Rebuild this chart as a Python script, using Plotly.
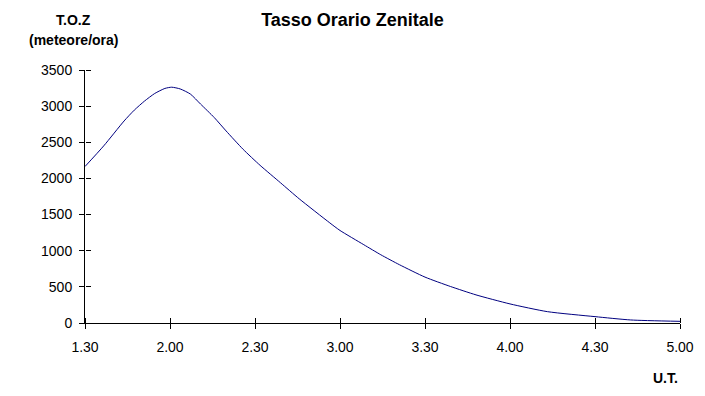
import plotly.graph_objects as go

# Data (U.T. in decimal hours, T.O.Z in meteors/hour)
ut_hours = [1.50, 1.61, 1.73, 1.79, 1.85, 1.91, 1.97, 2.01, 2.06, 2.12, 2.18, 2.26, 2.33,
            2.43, 2.53, 2.65, 2.76, 2.94, 3.00, 3.14, 3.24, 3.35, 3.50, 3.65, 3.80, 4.00,
            4.22, 4.50, 4.71, 5.00]
toz = [2165, 2450, 2795, 2945, 3070, 3175, 3245, 3262, 3238, 3167, 3028, 2843, 2657,
       2403, 2181, 1940, 1718, 1385, 1280, 1083, 944, 806, 635, 505, 389, 264,
       157, 88, 42, 23]

x_tickvals = [1.5, 2.0, 2.5, 3.0, 3.5, 4.0, 4.5, 5.0]
x_ticktext = ["1.30", "2.00", "2.30", "3.00", "3.30", "4.00", "4.30", "5.00"]
y_tickvals = [0, 500, 1000, 1500, 2000, 2500, 3000, 3500]

FONT = "Liberation Sans, Arial, sans-serif"

fig = go.Figure()
fig.add_trace(go.Scatter(
    x=ut_hours, y=toz, mode="lines",
    line=dict(color="#000080", width=1, shape="spline", smoothing=0.6),
    hoverinfo="skip", showlegend=False,
))

axis_common = dict(showgrid=False, zeroline=False, showline=True, linecolor="black",
                   linewidth=1, ticks="outside", ticklen=5, tickwidth=1, tickcolor="black",
                   tickfont=dict(family=FONT, size=14, color="black"))
# second set of axes on the opposite side, pinned to the same lines, so ticks cross the axis
inner_common = dict(showgrid=False, zeroline=False, showline=False, ticks="outside",
                    ticklen=5, tickwidth=1, tickcolor="black", showticklabels=False,
                    anchor="free", position=0)

fig.update_layout(
    width=705, height=396,
    margin=dict(l=85, r=25, t=70, b=73),
    paper_bgcolor="white", plot_bgcolor="white",
    font=dict(family=FONT, color="black"),
    title=dict(text="<b>Tasso Orario Zenitale</b>", x=0.5, xref="container",
               y=1 - 20 / 396, yanchor="middle", xanchor="center",
               font=dict(family=FONT, size=18, color="black")),
    xaxis=dict(range=[1.5, 5.0], tickvals=x_tickvals, ticktext=x_ticktext,
               ticklabelstandoff=6, **axis_common),
    yaxis=dict(range=[0, 3500], tickvals=y_tickvals, ticklabelstandoff=4, **axis_common),
    xaxis2=dict(range=[1.5, 5.0], tickvals=x_tickvals, overlaying="x", side="top",
                **inner_common),
    yaxis2=dict(range=[0, 3500], tickvals=y_tickvals, overlaying="y", side="right",
                **inner_common),
    annotations=[
        dict(text="<b>T.O.Z</b>", xref="paper", yref="paper", x=(73 - 85) / 595,
             y=(323 - 20) / 253, xanchor="center", yanchor="middle", showarrow=False,
             font=dict(family=FONT, size=14, color="black")),
        dict(text="<b>(meteore/ora)</b>", xref="paper", yref="paper", x=(73 - 85) / 595,
             y=(323 - 40) / 253, xanchor="center", yanchor="middle", showarrow=False,
             font=dict(family=FONT, size=14, color="black")),
        dict(text="<b>U.T.</b>", xref="paper", yref="paper", x=(665 - 85) / 595,
             y=(323 - 378) / 253, xanchor="center", yanchor="middle", showarrow=False,
             font=dict(family=FONT, size=14, color="black")),
    ],
)

# helper trace (no visible mark) so the second axes with the inner tick halves are drawn
fig.add_trace(go.Scatter(x=[ut_hours[0]], y=[toz[0]], xaxis="x2", yaxis="y2",
                         mode="lines", line=dict(width=0), hoverinfo="skip",
                         showlegend=False))

fig.write_html("out.html", config={"displayModeBar": False},
               post_script="document.body.style.margin='0';")
